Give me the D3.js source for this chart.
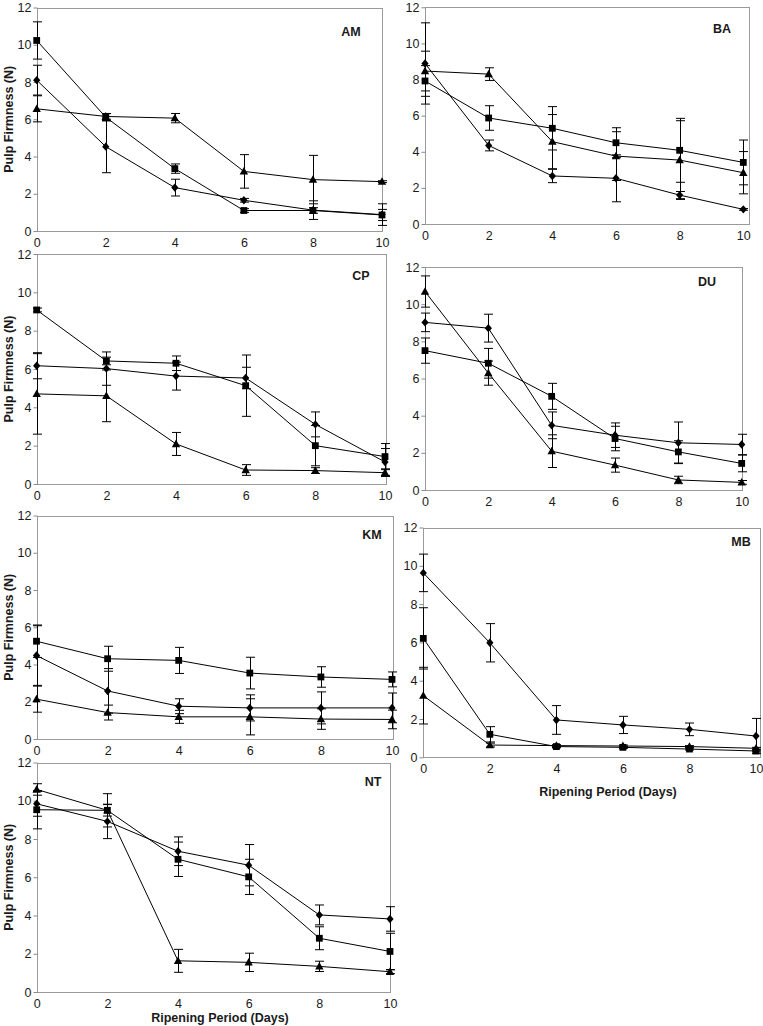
<!DOCTYPE html>
<html><head><meta charset="utf-8">
<script src="https://cdn.jsdelivr.net/npm/d3@7"></script>
<style>
body{margin:0;background:#fff}
svg{display:block}
text{font-family:"Liberation Sans",Arial,Helvetica,sans-serif}
</style>
</head><body>
<svg id="chart" width="763" height="1026"></svg>
<script>
// ---------------- data ----------------
const days = [0, 2, 4, 6, 8, 10];
const xTickValues = [0, 2, 4, 6, 8, 10];
const yTickValues = [0, 2, 4, 6, 8, 10, 12];
const panelNames = ["AM", "BA", "CP", "DU", "KM", "MB", "NT"];
const yAxisTitle = "Pulp Firmness (N)";
const xAxisTitle = "Ripening Period (Days)";

const diamondMeans = {
  AM: [8.10, 4.53, 2.33, 1.65, 1.12, 0.88],
  BA: [8.89, 4.35, 2.66, 2.53, 1.60, 0.81],
  CP: [6.17, 6.02, 5.63, 5.53, 3.11, 1.15],
  DU: [9.02, 8.71, 3.48, 2.95, 2.54, 2.45],
  KM: [4.48, 2.58, 1.76, 1.67, 1.67, 1.67],
  MB: [9.63, 5.98, 1.95, 1.69, 1.46, 1.11],
  NT: [9.84, 8.92, 7.36, 6.63, 4.03, 3.82]
};
const diamondErrors = {
  AM: [0.80, 1.40, 0.45, 0.10, 0.50, 0.58],
  BA: [2.25, 0.30, 0.37, 1.30, 0.20, 0.05],
  CP: [0.68, 0.87, 0.73, 0.56, 0.65, 0.70],
  DU: [0.50, 0.75, 0.72, 0.66, 1.12, 0.55],
  KM: [1.60, 1.20, 0.40, 0.70, 0.86, 0.80],
  MB: [0.98, 1.00, 0.75, 0.45, 0.33, 0.92],
  NT: [0.65, 0.90, 0.75, 1.08, 0.52, 0.64]
};
const squareMeans = {
  AM: [10.23, 6.11, 3.35, 1.10, 1.10, 0.86],
  BA: [7.92, 5.87, 5.30, 4.50, 4.08, 3.41],
  CP: [9.08, 6.42, 6.30, 5.13, 2.00, 1.43],
  DU: [7.50, 6.82, 5.04, 2.77, 2.05, 1.43],
  KM: [5.25, 4.31, 4.22, 3.54, 3.33, 3.20],
  MB: [6.21, 1.20, 0.56, 0.52, 0.43, 0.33],
  NT: [9.53, 9.50, 6.94, 6.02, 2.81, 2.12]
};
const squareErrors = {
  AM: [1.00, 0.20, 0.25, 0.10, 0.15, 0.30],
  BA: [0.85, 0.68, 1.20, 0.83, 1.77, 1.24],
  CP: [0.10, 0.20, 0.38, 1.60, 1.05, 0.68],
  DU: [0.68, 0.80, 0.70, 0.66, 0.60, 0.45],
  KM: [0.87, 0.67, 0.70, 0.85, 0.55, 0.40],
  MB: [1.60, 0.40, 0.05, 0.05, 0.05, 0.05],
  NT: [1.00, 0.87, 0.90, 0.92, 0.60, 0.95]
};
const triangleMeans = {
  AM: [6.56, 6.15, 6.06, 3.20, 2.76, 2.65],
  BA: [8.47, 8.30, 4.56, 3.76, 3.54, 2.84],
  CP: [4.70, 4.60, 2.09, 0.73, 0.70, 0.59],
  DU: [10.68, 6.29, 2.09, 1.34, 0.54, 0.41],
  KM: [2.14, 1.42, 1.19, 1.19, 1.07, 1.05],
  MB: [3.22, 0.64, 0.61, 0.59, 0.56, 0.47],
  NT: [10.59, 9.50, 1.63, 1.55, 1.34, 1.06]
};
const triangleErrors = {
  AM: [0.70, 0.15, 0.25, 0.90, 1.30, 0.05],
  BA: [1.10, 0.35, 1.50, 1.35, 2.18, 1.17],
  CP: [2.10, 1.35, 0.60, 0.28, 0.15, 0.20],
  DU: [0.84, 0.65, 0.88, 0.38, 0.20, 0.10],
  KM: [0.70, 0.40, 0.35, 0.97, 0.55, 0.50],
  MB: [1.48, 0.10, 0.05, 0.05, 0.05, 0.05],
  NT: [0.30, 0.30, 0.60, 0.48, 0.27, 0.10]
};

// ---------------- layout (pixels) ----------------
const layout = {
  AM: {x0: 36.7, x10: 382, boxRight: 382, top: 7.5, bottom: 231, nameX: 351, nameY: 31.5, yTitle: true, xTitle: null},
  BA: {x0: 425, x10: 743.3, boxRight: 749, top: 7.3, bottom: 224, nameX: 722, nameY: 28.5, yTitle: false, xTitle: null},
  CP: {x0: 36.7, x10: 385, boxRight: 385.5, top: 254, bottom: 484, nameX: 361, nameY: 275, yTitle: true, xTitle: null},
  DU: {x0: 425, x10: 741.7, boxRight: 742, top: 267, bottom: 490, nameX: 707, nameY: 281, yTitle: false, xTitle: null},
  KM: {x0: 36.5, x10: 392, boxRight: 393, top: 515.5, bottom: 739, nameX: 372, nameY: 534, yTitle: true, xTitle: null},
  MB: {x0: 423.3, x10: 756, boxRight: 760, top: 527.5, bottom: 757.3, nameX: 741, nameY: 541, yTitle: false, xTitle: {x: 608, y: 796}},
  NT: {x0: 36.7, x10: 390, boxRight: 390, top: 762.5, bottom: 992, nameX: 373, nameY: 781, yTitle: true, xTitle: {x: 220, y: 1022}}
};

const style = {
  frame: "#9a9a9a", tick: "#8a8a8a", ink: "#000", label: "#1a1a1a",
  tickFont: "12.5px", titleFont: "12.5px", capHalf: 4.5
};

// ---------------- markers ----------------
const markerPaths = {
  diamond: "M0,-4.2L3.6,0L0,4.2L-3.6,0Z",
  square: "M-3.4,-3.4H3.4V3.4H-3.4Z",
  triangle: "M0,-4.4L4.2,3.2H-4.2Z"
};
const seriesDefs = [
  {key: "diamond", means: diamondMeans, errors: diamondErrors},
  {key: "square", means: squareMeans, errors: squareErrors},
  {key: "triangle", means: triangleMeans, errors: triangleErrors}
];

const svg = d3.select("#chart");
svg.append("rect").attr("width", 763).attr("height", 1026).attr("fill", "#fff");

panelNames.forEach(name => {
  const L = layout[name];
  const x = d3.scaleLinear().domain([0, 10]).range([L.x0, L.x10]);
  const y = d3.scaleLinear().domain([0, 12]).range([L.bottom, L.top]);
  const g = svg.append("g").attr("class", "panel " + name);

  // frame
  g.append("rect")
    .attr("x", Math.round(x(0)) + 0.5).attr("y", Math.round(y(12)) + 0.5)
    .attr("width", Math.round(L.boxRight) - Math.round(x(0)))
    .attr("height", Math.round(y(0)) - Math.round(y(12)))
    .attr("fill", "none").attr("stroke", style.frame).attr("stroke-width", 1);

  // y axis
  const ya = g.append("g").attr("transform", `translate(${Math.round(x(0)) + 0.5},0)`)
    .call(d3.axisLeft(y).tickValues(yTickValues).tickSize(4).tickPadding(2).tickFormat(d3.format("d")));
  ya.select(".domain").remove();
  ya.selectAll(".tick line").attr("stroke", style.tick);
  ya.selectAll(".tick text").attr("font-size", style.tickFont).attr("fill", style.label)
    .attr("font-family", '"Liberation Sans",Arial,sans-serif');

  // x axis
  const xa = g.append("g").attr("transform", `translate(0,${Math.round(y(0)) + 0.5})`)
    .call(d3.axisBottom(x).tickValues(xTickValues).tickSize(0).tickPadding(7).tickFormat(d3.format("d")));
  xa.select(".domain").remove();
  xa.selectAll(".tick text").attr("font-size", style.tickFont).attr("fill", style.label)
    .attr("font-family", '"Liberation Sans",Arial,sans-serif');

  // series lines
  seriesDefs.forEach(s => {
    const vals = s.means[name];
    const line = d3.line().x((d, i) => x(days[i])).y(d => y(d));
    g.append("path").datum(vals).attr("d", line)
      .attr("fill", "none").attr("stroke", style.ink).attr("stroke-width", 1);
  });

  // error bars
  seriesDefs.forEach(s => {
    const vals = s.means[name], errs = s.errors[name];
    const eb = g.append("g").attr("stroke", style.ink).attr("stroke-width", 1).attr("fill", "none");
    vals.forEach((v, i) => {
      const cx = Math.round(x(days[i])) + 0.5;
      const hi = y(v + errs[i]), lo = y(v - errs[i]);
      eb.append("line").attr("x1", cx).attr("x2", cx).attr("y1", hi).attr("y2", lo);
      eb.append("line").attr("x1", cx - style.capHalf).attr("x2", cx + style.capHalf).attr("y1", hi).attr("y2", hi);
      eb.append("line").attr("x1", cx - style.capHalf).attr("x2", cx + style.capHalf).attr("y1", lo).attr("y2", lo);
    });
  });

  // markers
  seriesDefs.forEach(s => {
    g.append("g").selectAll("path").data(s.means[name]).join("path")
      .attr("d", markerPaths[s.key])
      .attr("transform", (d, i) => `translate(${x(days[i])},${y(d)})`)
      .attr("fill", style.ink);
  });

  // panel name
  g.append("text").attr("x", L.nameX).attr("y", L.nameY + 4.5)
    .attr("text-anchor", "middle").attr("font-weight", "bold")
    .attr("font-size", style.titleFont).attr("fill", style.label).text(name);

  // y title
  if (L.yTitle) {
    const cy = (L.top + L.bottom) / 2;
    g.append("text").attr("transform", `translate(12.5,${cy}) rotate(-90)`)
      .attr("text-anchor", "middle").attr("font-weight", "bold")
      .attr("font-size", style.titleFont).attr("fill", style.label).text(yAxisTitle);
  }
  if (L.xTitle) {
    g.append("text").attr("x", L.xTitle.x).attr("y", L.xTitle.y)
      .attr("text-anchor", "middle").attr("font-weight", "bold")
      .attr("font-size", style.titleFont).attr("fill", style.label).text(xAxisTitle);
  }
});
</script>
</body></html>
